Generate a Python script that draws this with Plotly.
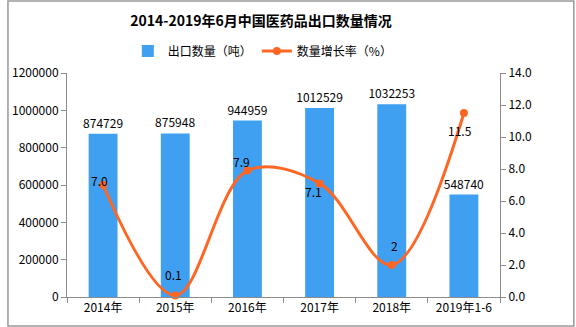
import plotly.graph_objects as go

categories = ["2014年", "2015年", "2016年", "2017年", "2018年", "2019年1-6"]
export_qty = [874729, 875948, 944959, 1012529, 1032253, 548740]
growth = [7.0, 0.1, 7.9, 7.1, 2, 11.5]
growth_labels = ["7.0", "0.1", "7.9", "7.1", "2", "11.5"]
label_dx = [-4, -2, -6, -6, 3, -4]
label_dy = [5, 21, 9, -8, 20, -17]

FONT = "SimSun, 'Noto Sans CJK SC', sans-serif"
BAR = "#3F9FF0"
LINE = "#FF6623"
AX = "#8C8C8C"

fig = go.Figure()
fig.add_trace(go.Bar(
    x=categories, y=export_qty, name="出口数量（吨）",
    marker=dict(color=BAR, line=dict(width=0)),
    text=[str(v) for v in export_qty], textposition="outside",
    constraintext="none",
    textfont=dict(size=12, color="#000", family=FONT),
    cliponaxis=False, width=0.4,
))
fig.add_trace(go.Scatter(
    x=categories, y=growth, name="数量增长率（%）", yaxis="y2",
    mode="lines+markers",
    line=dict(color=LINE, width=3, shape="spline", smoothing=1.0),
    marker=dict(color=LINE, size=8),
    cliponaxis=False,
))

annotations = []
for c, g, t, dx, dy in zip(categories, growth, growth_labels, label_dx, label_dy):
    annotations.append(dict(x=c, y=g, xref="x", yref="y2", text=t, showarrow=False,
                            xshift=dx, yshift=dy, font=dict(size=12, color="#000", family=FONT)))

fig.update_layout(
    width=576, height=327,
    margin=dict(l=60, r=76, t=73, b=30),
    paper_bgcolor="white", plot_bgcolor="white",
    font=dict(family=FONT, size=12, color="#000"),
    title=dict(text="<b>2014-2019年6月中国医药品出口数量情况</b>", x=261/576, xanchor="center",
               y=1 - 21/327, yanchor="middle", font=dict(size=14, family=FONT, color="#000")),
    legend=dict(orientation="h", x=(259 - 60) / 440, xanchor="center", y=(297 - 51) / 224,
                yanchor="middle", font=dict(size=12, family=FONT), itemwidth=30,
                bgcolor="rgba(0,0,0,0)"),
    bargap=0.6,
    showlegend=True,
    annotations=annotations,
    xaxis=dict(showline=True, linecolor=AX, ticks="outside", tickson="boundaries",
               tickcolor=AX, ticklen=5, tickfont=dict(size=12, family=FONT)),
    yaxis=dict(range=[0, 1200000], dtick=200000, showgrid=False, showline=True, linecolor=AX,
               ticks="outside", tickcolor=AX, ticklen=5, tickformat="d", zeroline=False,
               tickfont=dict(size=12, family=FONT)),
    yaxis2=dict(range=[0, 14], dtick=2, overlaying="y", side="right", showgrid=False,
                showline=True, linecolor=AX, ticks="outside", tickcolor=AX, ticklen=5,
                tickformat=".1f", zeroline=False, tickfont=dict(size=12, family=FONT)),
    shapes=[dict(type="rect", xref="paper", yref="paper", x0=-60/440, x1=(440+75)/440,
                 y0=-29/224, y1=(224+72)/224, line=dict(color="#999", width=1.5))],
)

fig.write_html("out.html")
